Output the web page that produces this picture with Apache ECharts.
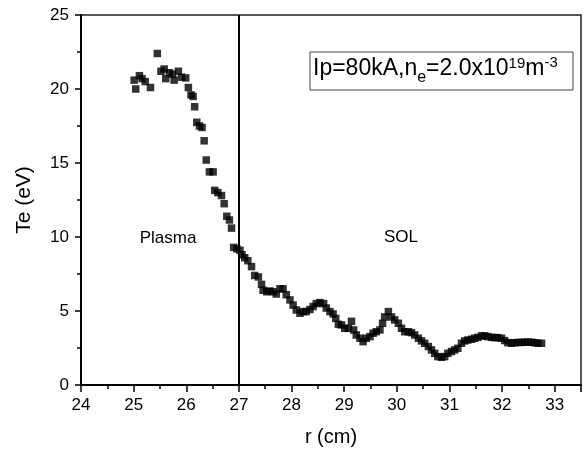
<!DOCTYPE html>
<html><head><meta charset="utf-8">
<script src="https://cdn.jsdelivr.net/npm/echarts@6/dist/echarts.min.js"></script>
<style>html,body{margin:0;padding:0;background:#fff}#c{width:588px;height:453px}</style>
</head><body><div id="c"></div>
<script>
// Radius r (cm)
const r = [25.01, 25.04, 25.11, 25.16, 25.22, 25.32, 25.45, 25.52, 25.58, 25.61,
  25.68, 25.74, 25.77, 25.85, 25.91, 25.99, 26.04, 26.09, 26.13, 26.16,
  26.2, 26.25, 26.3, 26.34, 26.38, 26.44, 26.51, 26.54, 26.6, 26.67,
  26.72, 26.77, 26.82, 26.86, 26.9, 26.96, 27.02, 27.06, 27.11, 27.17,
  27.24, 27.3, 27.37, 27.43, 27.46, 27.53, 27.59, 27.65, 27.71, 27.78,
  27.84, 27.9, 27.97, 28.03, 28.09, 28.16, 28.22, 28.28, 28.35, 28.41,
  28.47, 28.54, 28.61, 28.66, 28.73, 28.79, 28.84, 28.89, 28.95, 29.01,
  29.08, 29.14, 29.18, 29.23, 29.3, 29.36, 29.42, 29.49, 29.55, 29.61,
  29.68, 29.73, 29.77, 29.84, 29.9, 29.96, 30.03, 30.09, 30.15, 30.22,
  30.28, 30.34, 30.41, 30.47, 30.53, 30.6, 30.66, 30.72, 30.78, 30.85,
  30.91, 30.97, 31.04, 31.1, 31.16, 31.23, 31.29, 31.35, 31.42, 31.48,
  31.54, 31.61, 31.67, 31.73, 31.8, 31.86, 31.92, 31.99, 32.05, 32.11,
  32.18, 32.24, 32.3, 32.37, 32.43, 32.49, 32.56, 32.62, 32.68, 32.75];
// Electron temperature Te (eV)
const te = [20.6, 20.0, 20.9, 20.7, 20.5, 20.1, 22.4, 21.2, 21.35, 20.7,
  21.1, 21.0, 20.6, 21.2, 20.8, 20.75, 20.1, 19.6, 19.5, 18.8,
  17.75, 17.5, 17.4, 16.5, 15.2, 14.4, 14.4, 13.15, 13.0, 12.8,
  12.25, 11.4, 11.15, 10.6, 9.3, 9.2, 9.1, 8.8, 8.6, 8.4,
  8.0, 7.4, 7.3, 6.8, 6.4, 6.3, 6.35, 6.3, 6.15, 6.5,
  6.5, 6.1, 5.75, 5.4, 5.07, 4.85, 4.96, 4.96, 5.1, 5.3,
  5.5, 5.57, 5.5, 5.2, 4.96, 4.8, 4.5, 4.1, 4.06, 3.83,
  3.83, 4.3, 3.72, 3.38, 3.16, 2.93, 3.16, 3.27, 3.5, 3.6,
  3.72, 4.17, 4.6, 4.96, 4.6, 4.4, 4.17, 3.83, 3.6, 3.6,
  3.54, 3.38, 3.16, 2.98, 2.82, 2.6, 2.37, 2.14, 1.92, 1.87,
  1.92, 2.14, 2.26, 2.37, 2.48, 2.82, 2.98, 3.04, 3.09, 3.16,
  3.22, 3.32, 3.32, 3.27, 3.22, 3.2, 3.2, 3.16, 3.0, 2.86,
  2.82, 2.86, 2.87, 2.88, 2.89, 2.9, 2.89, 2.86, 2.82, 2.82];
const separatorR = [27];
const xRange = [24, 33.5];
const yRange = [0, 25];

const FONT = '"Liberation Sans", Arial, sans-serif';
const chart = echarts.init(document.getElementById('c'), null, {renderer: 'canvas'});

// annotation text pieces
const pieces = [
  {t: 'Ip=80kA,n', s: 23, dy: 0},
  {t: 'e', s: 16, dy: 6},
  {t: '=2.0x10', s: 23, dy: 0},
  {t: '19', s: 15, dy: -8},
  {t: 'm', s: 23, dy: 0},
  {t: '-3', s: 15, dy: -9}
];
const mctx = document.createElement('canvas').getContext('2d');
let px = 313;
const baseY = 77;
const annot = [];
pieces.forEach(p => {
  mctx.font = p.s + 'px ' + FONT;
  const w = mctx.measureText(p.t).width;
  annot.push({type: 'text', x: px, y: baseY + p.dy - 0.35 * p.s, silent: true,
    style: {text: p.t, fontSize: p.s, fontFamily: FONT, fill: '#000', align: 'left', verticalAlign: 'middle'}});
  px += w;
});

const labelStyle = {color: '#000', fontSize: 17, fontFamily: FONT};
const lineStyle = {color: '#000', width: 2};

chart.setOption({
  animation: false,
  backgroundColor: '#fff',
  grid: {left: 81, right: 7, top: 15, bottom: 68, show: true, borderColor: '#222', borderWidth: 1.5, backgroundColor: 'transparent'},
  xAxis: [{
    type: 'value', min: xRange[0], max: xRange[1], interval: 1, position: 'bottom',
    name: 'r (cm)', nameLocation: 'middle', nameGap: 42,
    nameTextStyle: {color: '#000', fontSize: 20, fontFamily: FONT},
    axisLine: {show: true, onZero: false, lineStyle: lineStyle},
    axisTick: {show: true, length: 7, lineStyle: {color: '#000', width: 1.5}},
    axisLabel: Object.assign({margin: 12, formatter: v => Number.isInteger(v) ? String(v) : ''}, labelStyle),
    splitLine: {show: false}
  }, {
    type: 'value', min: xRange[0], max: xRange[1], interval: 0.5, position: 'bottom', gridIndex: 0,
    axisLine: {show: false, onZero: false}, axisTick: {show: true, length: 4, lineStyle: {color: '#000', width: 1.5}},
    axisLabel: {show: false}, splitLine: {show: false}
  }],
  yAxis: [{
    type: 'value', min: yRange[0], max: yRange[1], interval: 5, position: 'left',
    name: 'Te (eV)', nameLocation: 'middle', nameGap: 46, nameRotate: 90,
    nameTextStyle: {color: '#000', fontSize: 21, fontFamily: FONT},
    axisLine: {show: true, onZero: false, lineStyle: lineStyle},
    axisTick: {show: true, length: 6, lineStyle: {color: '#000', width: 1.5}},
    axisLabel: Object.assign({margin: 12}, labelStyle),
    splitLine: {show: false}
  }, {
    type: 'value', min: yRange[0], max: yRange[1], interval: 2.5, position: 'left',
    axisLine: {show: false, onZero: false}, axisTick: {show: true, length: 4, lineStyle: {color: '#000', width: 1.5}},
    axisLabel: {show: false}, splitLine: {show: false}
  }],
  series: [{
    type: 'scatter', xAxisIndex: 0, yAxisIndex: 0,
    symbol: 'rect', symbolSize: 7.5,
    itemStyle: {color: '#000'},
    data: r.map((v, i) => [v, te[i]]),
    markLine: {
      silent: true, symbol: ['none', 'none'], label: {show: false},
      lineStyle: {color: '#000', width: 2, type: 'solid'},
      data: separatorR.map(v => ({xAxis: v}))
    }
  }],
  graphic: [
    {type: 'rect', shape: {x: 310, y: 52, width: 263, height: 38}, silent: true,
      style: {fill: '#fff', stroke: '#444', lineWidth: 1}},
    {type: 'text', x: 168, y: 238, silent: true,
      style: {text: 'Plasma', fontSize: 17, fontFamily: FONT, fill: '#000', align: 'center', verticalAlign: 'middle'}},
    {type: 'text', x: 401, y: 237, silent: true,
      style: {text: 'SOL', fontSize: 17, fontFamily: FONT, fill: '#000', align: 'center', verticalAlign: 'middle'}}
  ].concat(annot)
});
</script>
</body></html>
